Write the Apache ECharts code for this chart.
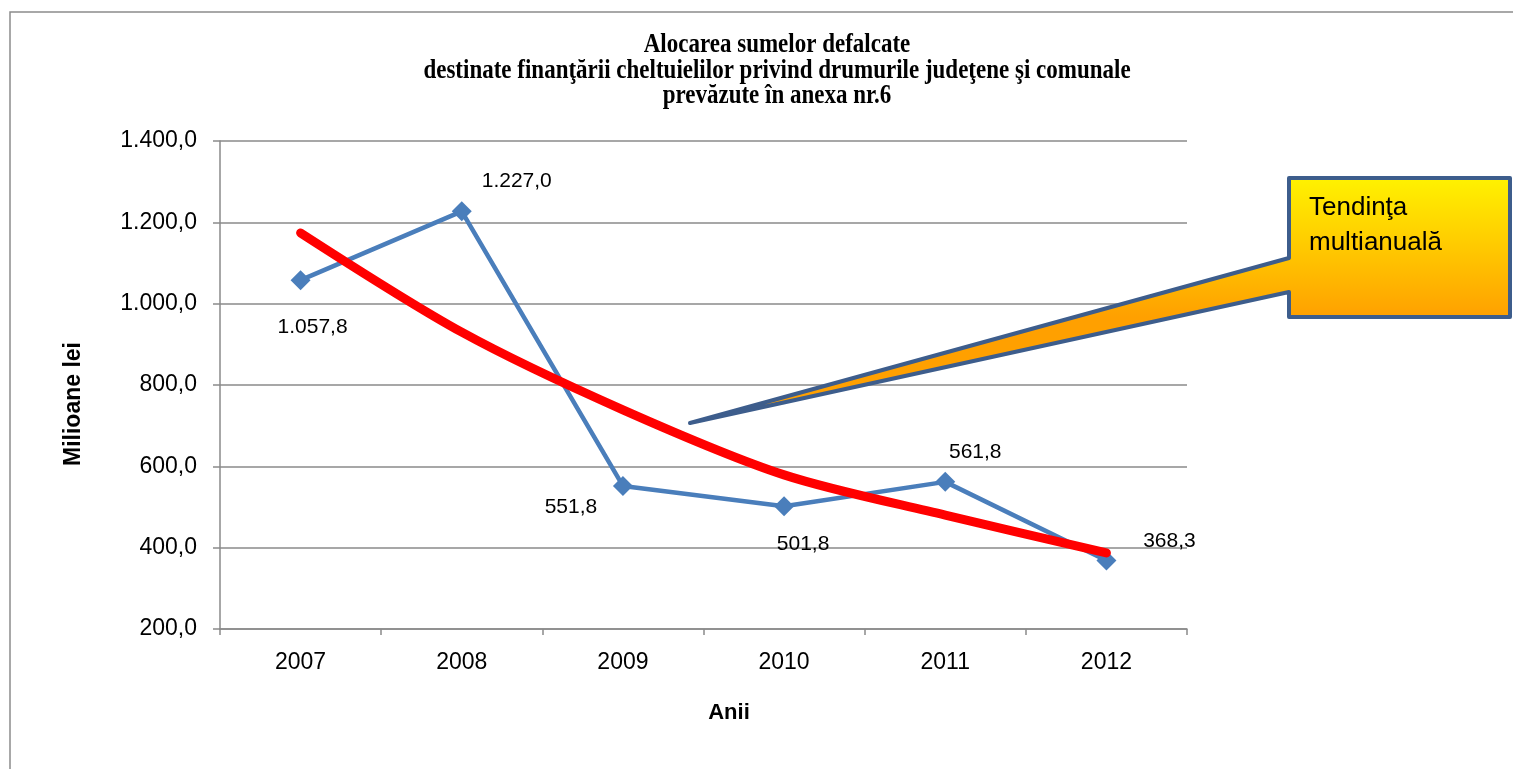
<!DOCTYPE html>
<html>
<head>
<meta charset="utf-8">
<script src="https://cdn.jsdelivr.net/npm/echarts@6/dist/echarts.min.js"></script>
<style>
html,body{margin:0;padding:0;background:#fff;}
#chart{width:1513px;height:769px;}
</style>
</head>
<body>
<div id="chart"></div>
<script>
const categories = ['2007', '2008', '2009', '2010', '2011', '2012'];
const values = [1057.8, 1227.0, 551.8, 501.8, 561.8, 368.3];
const trendValues = [1174, 930, 739, 579, 480, 387];
const titleLines = [
  'Alocarea sumelor defalcate',
  'destinate finanţării cheltuielilor privind drumurile judeţene şi comunale',
  'prevăzute în anexa nr.6'
];
const yAxisTitle = 'Milioane lei';
const xAxisTitle = 'Anii';
const calloutText = ['Tendinţa', 'multianuală'];

function fmt(v) {
  const s = Number(v).toFixed(1);
  const parts = s.split('.');
  return parts[0].replace(/\B(?=(\d{3})+(?!\d))/g, '.') + ',' + parts[1];
}

const labelOffsets = [[12, 47], [55, -30], [-52, 21], [19, 38], [30, -30], [63, -19]];
const titleCentersY = [45, 71, 96];

const chart = echarts.init(document.getElementById('chart'), null, {renderer: 'canvas'});

const sans = 'Liberation Sans, Arial, sans-serif';
const axisGray = '#8a8a8a';

const titleGraphics = titleLines.map((t, i) => ({
  type: 'text',
  x: 777, y: titleCentersY[i],
  scaleY: 1.15,
  style: {
    text: t,
    textAlign: 'center',
    textVerticalAlign: 'middle',
    fill: '#000',
    font: 'bold 23px "Liberation Serif", "Times New Roman", serif'
  },
  z: 10
}));

const option = {
  animation: false,
  backgroundColor: '#ffffff',
  grid: {left: 220, right: 326, top: 141, bottom: 140, containLabel: false},
  xAxis: {
    type: 'category',
    data: categories,
    boundaryGap: true,
    axisLine: {show: true, lineStyle: {color: axisGray, width: 1.5}},
    axisTick: {show: true, alignWithLabel: false, length: 6, lineStyle: {color: axisGray, width: 1.5}},
    axisLabel: {color: '#000', fontFamily: sans, fontSize: 23, margin: 22},
    splitLine: {show: false}
  },
  yAxis: {
    type: 'value',
    min: 200,
    max: 1400,
    interval: 200,
    axisLine: {show: true, lineStyle: {color: axisGray, width: 1.5}},
    axisTick: {show: true, length: 7, lineStyle: {color: axisGray, width: 1.5}},
    axisLabel: {color: '#000', fontFamily: sans, fontSize: 23, margin: 23, formatter: fmt},
    splitLine: {show: true, lineStyle: {color: axisGray, width: 1.5}}
  },
  series: [
    {
      name: 'Alocare',
      type: 'line',
      data: values.map((v, i) => ({
        value: v,
        label: {offset: labelOffsets[i]}
      })),
      symbol: 'diamond',
      symbolSize: 20,
      lineStyle: {color: '#4a7ebb', width: 4.5},
      itemStyle: {color: '#4a7ebb'},
      label: {
        show: true,
        position: 'inside',
        color: '#000',
        fontFamily: sans,
        fontSize: 21,
        formatter: p => fmt(p.value)
      },
      z: 2
    },
    {
      name: 'Tendinţa',
      type: 'line',
      data: trendValues,
      smooth: 0.3,
      symbol: 'none',
      lineStyle: {color: '#ff0000', width: 9, cap: 'round', join: 'round'},
      z: 3
    }
  ],
  graphic: [
    {
      type: 'rect',
      shape: {x: 10, y: 12, width: 1600, height: 900},
      style: {fill: 'none', stroke: '#8c8c8c', lineWidth: 1.5},
      z: 0, silent: true
    }
  ].concat(titleGraphics).concat([
    {
      type: 'text',
      x: 729, y: 713,
      style: {
        text: xAxisTitle,
        textAlign: 'center',
        textVerticalAlign: 'middle',
        fill: '#000',
        font: 'bold 22px "Liberation Sans", Arial, sans-serif'
      },
      z: 10
    },
    {
      type: 'text',
      x: 74, y: 404,
      rotation: Math.PI / 2,
      style: {
        text: yAxisTitle,
        textAlign: 'center',
        textVerticalAlign: 'middle',
        fill: '#000',
        font: 'bold 23px "Liberation Sans", Arial, sans-serif'
      },
      z: 10
    },
    {
      type: 'polygon',
      shape: {
        points: [[1289, 178], [1510, 178], [1510, 317], [1289, 317], [1289, 292], [690, 423], [1289, 258]]
      },
      style: {
        fill: new echarts.graphic.LinearGradient(0, 178, 0, 317, [
          {offset: 0, color: '#fff200'},
          {offset: 1, color: '#ffa000'}
        ], true),
        stroke: '#3d5d8c',
        lineWidth: 4,
        lineJoin: 'round'
      },
      z: 20
    },
    {
      type: 'text',
      x: 1309, y: 190,
      style: {
        text: calloutText.join('\n'),
        textAlign: 'left',
        textVerticalAlign: 'top',
        fill: '#000',
        font: '26px "Liberation Sans", Arial, sans-serif',
        lineHeight: 35
      },
      z: 21
    }
  ])
};

chart.setOption(option);
</script>
</body>
</html>
